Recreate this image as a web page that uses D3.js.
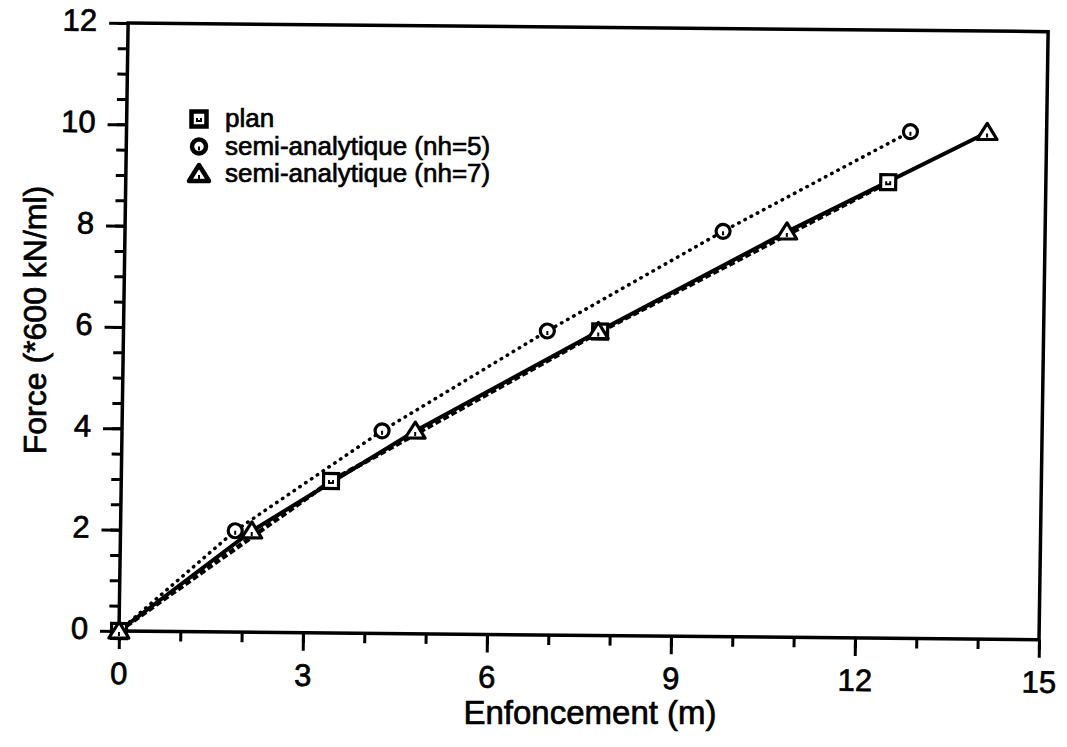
<!DOCTYPE html>
<meta charset="utf-8">
<style>

body {
  margin: 0;
  background: #fff;
}

text {
  font-family: "Liberation Sans", Arial, Helvetica, sans-serif;
  fill: #000;
  stroke: #000;
  stroke-width: 0.7px;
}

.axis path {
  display: none;
}

.axis line {
  stroke: #000;
  stroke-width: 3px;
}

.axis text {
  font-size: 31px;
}

</style>
<svg></svg>
<script src="https://d3js.org/d3.v7.min.js"></script>
<script>

var width = 1067,
    height = 747;

// values
var depthPlan = [0, 3.42, 7.77, 12.43],
    forcePlan = [0, 3, 6, 9];

var depthNh5 = [0, 1.87, 4.24, 6.91, 9.75, 12.78],
    forceNh5 = [0, 2, 4, 6, 8, 10];

var depthNh7 = [0, 2.14, 4.78, 7.74, 10.79, 14.03],
    forceNh7 = [0, 2, 4, 6, 8, 10];

var xMajor = [0, 3, 6, 9, 12, 15],
    yMajor = [0, 2, 4, 6, 8, 10, 12];

var legendLabels = ["plan", "semi-analytique (nh=5)", "semi-analytique (nh=7)"];

var x = d3.scaleLinear()
    .domain([0, 15])
    .range([119, 1039]);

var y = d3.scaleLinear()
    .domain([0, 12])
    .range([631, 23]);

var svg = d3.select("svg")
    .attr("width", width)
    .attr("height", height);

// the scan is slightly skewed, keep the origin fixed
var sx = -0.015, sy = 0.0094;
var plot = svg.append("g")
    .attr("transform", "matrix(1," + sy + "," + sx + ",1," + (-sx * 631) + "," + (-sy * 119) + ")");

plot.append("g")
    .attr("class", "axis")
    .attr("transform", "translate(0,631)")
    .call(d3.axisBottom(x).tickValues(d3.range(0, 16, 1)).tickSize(10).tickFormat(""));

plot.append("g")
    .attr("class", "axis")
    .attr("transform", "translate(0,631)")
    .call(d3.axisBottom(x).tickValues(xMajor).tickSize(18).tickPadding(13));

plot.append("g")
    .attr("class", "axis")
    .attr("transform", "translate(119,0)")
    .call(d3.axisLeft(y).tickValues(d3.range(0, 12.01, 0.5)).tickSize(10).tickFormat(""));

plot.append("g")
    .attr("class", "axis")
    .attr("transform", "translate(119,0)")
    .call(d3.axisLeft(y).tickValues(yMajor).tickSize(19).tickPadding(12))
  .selectAll("text")
    .attr("dy", "0.25em");

plot.append("rect")
    .attr("x", x(0))
    .attr("y", y(12))
    .attr("width", x(15) - x(0))
    .attr("height", y(0) - y(12))
    .attr("fill", "none")
    .attr("stroke", "#000")
    .attr("stroke-width", 3.5);

function pts(xs, ys) {
  return xs.map(function(d, i) { return [d, ys[i]]; });
}

var line = d3.line()
    .x(function(d) { return x(d[0]); })
    .y(function(d) { return y(d[1]); });

plot.append("path")
    .attr("d", line(pts(depthNh5, forceNh5)))
    .attr("fill", "none")
    .attr("stroke", "#000")
    .attr("stroke-width", 3.5)
    .attr("stroke-linecap", "round")
    .attr("stroke-dasharray", "0.5,6.5");

plot.append("path")
    .attr("d", line(pts(depthPlan, forcePlan)))
    .attr("fill", "none")
    .attr("stroke", "#000")
    .attr("stroke-width", 4.5)
    .attr("stroke-dasharray", "6,3");

plot.append("path")
    .attr("d", line(pts(depthNh7, forceNh7)))
    .attr("fill", "none")
    .attr("stroke", "#000")
    .attr("stroke-width", 4);

function square(g, w) {
  g.append("rect").attr("x", -7.5).attr("y", -7.5).attr("width", 15).attr("height", 15)
      .attr("fill", "#fff").attr("stroke", "#000").attr("stroke-width", w);
  g.append("path").attr("d", "M-2,-1V2H2V-1").attr("fill", "none").attr("stroke", "#000").attr("stroke-width", 2);
}

function circle(g, w) {
  g.append("circle").attr("r", 7)
      .attr("fill", "#fff").attr("stroke", "#000").attr("stroke-width", w);
  g.append("path").attr("d", "M0,0V4").attr("stroke", "#000").attr("stroke-width", 2);
}

function triangle(g, w) {
  g.append("path").attr("d", "M0,-9L10,7H-10Z")
      .attr("fill", "#fff").attr("stroke", "#000").attr("stroke-width", w).attr("stroke-linejoin", "round");
  g.append("path").attr("d", "M0,1V5").attr("stroke", "#000").attr("stroke-width", 2);
}

function markers(data, draw) {
  plot.append("g").selectAll("g")
    .data(data)
    .join("g")
      .attr("transform", function(d) { return "translate(" + x(d[0]) + "," + y(d[1]) + ")"; })
      .each(function() { draw(d3.select(this), 3.2); });
}

markers(pts(depthNh5, forceNh5), circle);
markers(pts(depthPlan, forcePlan), square);
markers(pts(depthNh7, forceNh7), triangle);

// legend
var legend = svg.append("g")
    .attr("transform", "translate(199,119)");

var drawers = [square, circle, triangle];

legend.selectAll("g")
  .data(legendLabels)
  .join("g")
    .attr("transform", function(d, i) { return "translate(0," + i * 27.5 + ")"; })
    .each(function(d, i) {
      var g = d3.select(this);
      drawers[i](g, 4.5);
      g.append("text")
          .attr("x", 26)
          .attr("y", 8)
          .style("font-size", "26px")
          .text(d);
    });

svg.append("text")
    .attr("x", 590)
    .attr("y", 724)
    .attr("text-anchor", "middle")
    .style("font-size", "33px")
    .text("Enfoncement (m)");

svg.append("text")
    .attr("transform", "translate(46,320) rotate(-90)")
    .attr("text-anchor", "middle")
    .style("font-size", "32px")
    .text("Force (*600 kN/ml)");

</script>
